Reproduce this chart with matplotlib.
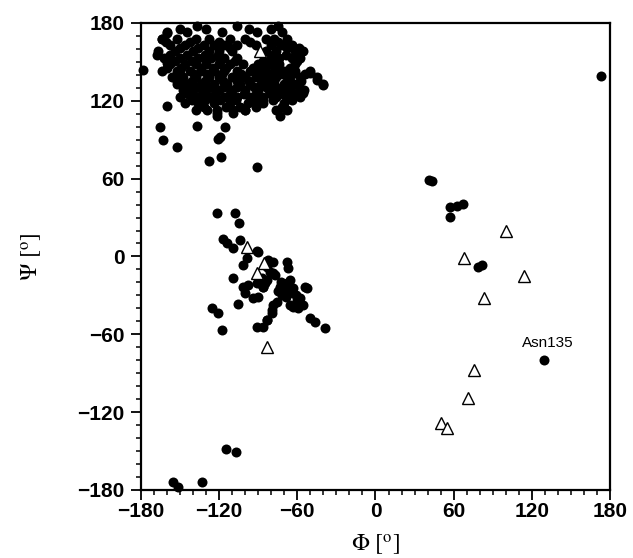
import matplotlib
matplotlib.use("Agg")
import matplotlib.pyplot as plt
from matplotlib.ticker import MultipleLocator

plt.rcParams['font.family'] = 'Liberation Sans'
plt.rcParams['mathtext.fontset'] = 'stix'

# dihedral angles (degrees)
# beta region, dense cluster, typed row by row (psi, list of phi)
beta_rows = [
    (178, [-137, -106, -75]),
    (175.5, [-150, -130, -97, -80]),
    (173, [-160, -145, -118, -91, -72]),
    (168, [-164, -152, -138, -128, -112, -100, -84, -78, -68]),
    (165.5, [-161, -142, -120, -96, -75]),
    (163, [-158, -146, -132, -124, -116, -106, -92, -80, -72, -64]),
    (160.5, [-150, -136, -112, -68, -59]),
    (158, [-167, -154, -140, -128, -120, -110, -84, -76, -62, -56]),
    (155.5, [-158, -145, -131, -121, -79, -69]),
    (153, [-162, -150, -136, -126, -116, -106, -80, -74, -64, -58]),
    (150.5, [-154, -141, -130, -119, -108, -86, -77, -60]),
    (148, [-158, -146, -138, -130, -120, -112, -102, -90, -82, -74, -62]),
    (145.5, [-160, -149, -134, -125, -115, -94, -85, -76, -66]),
    (143, [-164, -152, -142, -134, -124, -116, -106, -96, -88, -78, -70, -62, -50]),
    (140.5, [-150, -139, -129, -118, -103, -90, -80, -72, -64, -54]),
    (138, [-156, -148, -138, -128, -120, -110, -100, -92, -84, -76, -68, -58, -45]),
    (135.5, [-152, -141, -131, -117, -106, -97, -86, -78, -66, -57]),
    (133, [-152, -144, -134, -124, -114, -104, -96, -88, -80, -70, -62, -40]),
    (130.5, [-146, -136, -126, -116, -106, -93, -84, -76, -68, -59]),
    (128, [-148, -140, -130, -120, -110, -100, -90, -82, -74, -66, -55]),
    (125.5, [-144, -133, -123, -112, -101, -92, -80, -71, -62]),
    (123, [-150, -138, -128, -116, -106, -96, -86, -76, -68, -58]),
    (120.5, [-141, -131, -119, -107, -92, -79, -64]),
    (118, [-146, -136, -124, -112, -98, -86, -70]),
    (115.5, [-132, -115, -104, -92, -72]),
    (113, [-138, -129, -122, -109, -100, -68, -76]),
    (108, [-122, -73]),
]

# scattered residues (phi, psi)
other_phi = [-178.7, -164.1, -160.3, -167.9, -160.3, -150.0, -56.6, -50.3, -45.1,
             -40.0, -55.4, -160.3, -165.4, -162.9, -152.6, -136.8, -127.5, -118.8,
             -120.6, -119.0, -115.5, -121.9, -91.2, -86.0, -109.0, -100.0, 173.0,
             # alpha region
             -121.9, -107.8, -104.5, -116.8, -113.7, -109.1, -104.0, -89.9, -98.8,
             -101.5, -78.4, -68.1, -67.0, -78.4, -65.6, -54.1, -70.8, -63.1, -58.0,
             -55.4, -65.6, -75.8, -79.7, -83.5, -86.1, -50.3, -46.4, -38.8, -86.1,
             -83.5, -109.1, -101.5, -97.7, -91.2, -86.1, -100.2, -93.8, -89.9,
             -105.3, -125.7, -120.6, -118.0, -91.2, -83.5, -79.7, -78.4, -83.5,
             -81.0, -77.1, -87.3, -84.8, -73.3, -68.1, -63.1, -67.7, -72.0, -60.5,
             -52.8, -59.2, -63.1, -90.7, -82.3, -72.5, -69.0, -61.0, -75.0,
             # right half
             41.0, 43.0, 57.2, 62.3, 67.4, 57.2, 78.5, 81.5, 129.3,
             # bottom
             -155.2, -151.3, -133.4, -114.7, -107.1]
other_psi = [143.8, 167.5, 172.0, 155.4, 149.0, 136.0, 158.7, 141.2, 136.0,
             132.2, 126.3, 116.0, 100.0, 89.8, 84.7, 100.6, 73.6, 77.0,
             90.4, 92.0, 100.0, 110.4, 68.8, 120.7, 110.4, 113.0, 139.0,
             33.8, 33.8, 25.6, 13.3, 10.6, 6.3, 12.7, 3.7, -1.4,
             -6.6, -4.0, -4.0, -9.1, -13.0, -18.1, -23.3, -27.1, -28.4, -32.2,
             -37.4, -37.4, -34.8, -41.2, -49.0, -54.1, -47.6, -50.3, -54.9, -23.3,
             -18.1, -16.8, -23.3, -22.0, -20.7, -23.3, -28.4, -32.2, -31.0,
             -36.6, -40.0, -43.3, -56.7, -54.1, -49.0, -43.8, -37.4, -7.9,
             -11.7, -14.3, -16.8, -20.7, -23.3, -25.8, -24.5, -20.7, -29.7, -33.5,
             -24.5, -40.0, -38.7, 4.2, -2.7, -20.0, -31.5, -30.0, -27.0,
             59.0, 58.0, 38.4, 38.9, 40.5, 30.2, -8.5, -6.5, -79.8,
             -173.6, -178.0, -173.6, -148.2, -151.0]

# glycines (open triangles)
gly_phi = [-88.6, -98.8, -85.6, -91.2, -83.5, 100.2, 68.2, 114.0, 83.5, 75.8, 70.8, 50.0, 54.6]
gly_psi = [158.0, 7.6, -5.2, -13.0, -69.5, 19.9, -0.9, -14.8, -31.8, -87.5, -108.9, -128.6, -132.0]

label_text = "Asn135"
label_pos = (132.6, -66.5)

tick_vals = [-180, -120, -60, 0, 60, 120, 180]
tick_labels = ['\u2212180', '\u2212120', '\u221260', '0', '60', '120', '180']

phi = []
psi = []
for p, row in beta_rows:
    for f in row:
        phi.append(f)
        psi.append(p)
phi += other_phi
psi += other_psi

fig = plt.figure(figsize=(6.33, 5.58), dpi=100)
ax = fig.add_axes([0.2227, 0.1219, 0.741, 0.837])

ax.plot(phi, psi, 'o', color='black', markersize=7.2, markeredgewidth=0,
        linestyle='none', clip_on=False)
ax.plot(gly_phi, gly_psi, '^', markerfacecolor='white', markeredgecolor='black',
        markersize=9, markeredgewidth=1.0, linestyle='none', clip_on=False)
ax.text(label_pos[0], label_pos[1], label_text, ha='center', va='center', fontsize=11)

ax.set_xlim(-180, 180)
ax.set_ylim(-180, 180)
ax.set_xticks(tick_vals, tick_labels, fontsize=15, fontweight='bold')
ax.set_yticks(tick_vals, tick_labels, fontsize=15, fontweight='bold')
ax.xaxis.set_minor_locator(MultipleLocator(10))
ax.yaxis.set_minor_locator(MultipleLocator(10))
ax.tick_params(which='major', direction='out', length=7, width=1.3)
ax.tick_params(which='minor', direction='out', length=3.5, width=1.1)
ax.tick_params(axis='x', which='major', pad=2)
ax.tick_params(axis='y', which='major', pad=5)
for s in ax.spines.values():
    s.set_linewidth(1.6)

ax.set_xlabel(r'$\Phi\ [^{\mathrm{o}}]$', fontsize=17, labelpad=8)
ax.set_ylabel(r'$\Psi\ [^{\mathrm{o}}]$', fontsize=17, labelpad=24)

fig.savefig('out.png', dpi=100)
